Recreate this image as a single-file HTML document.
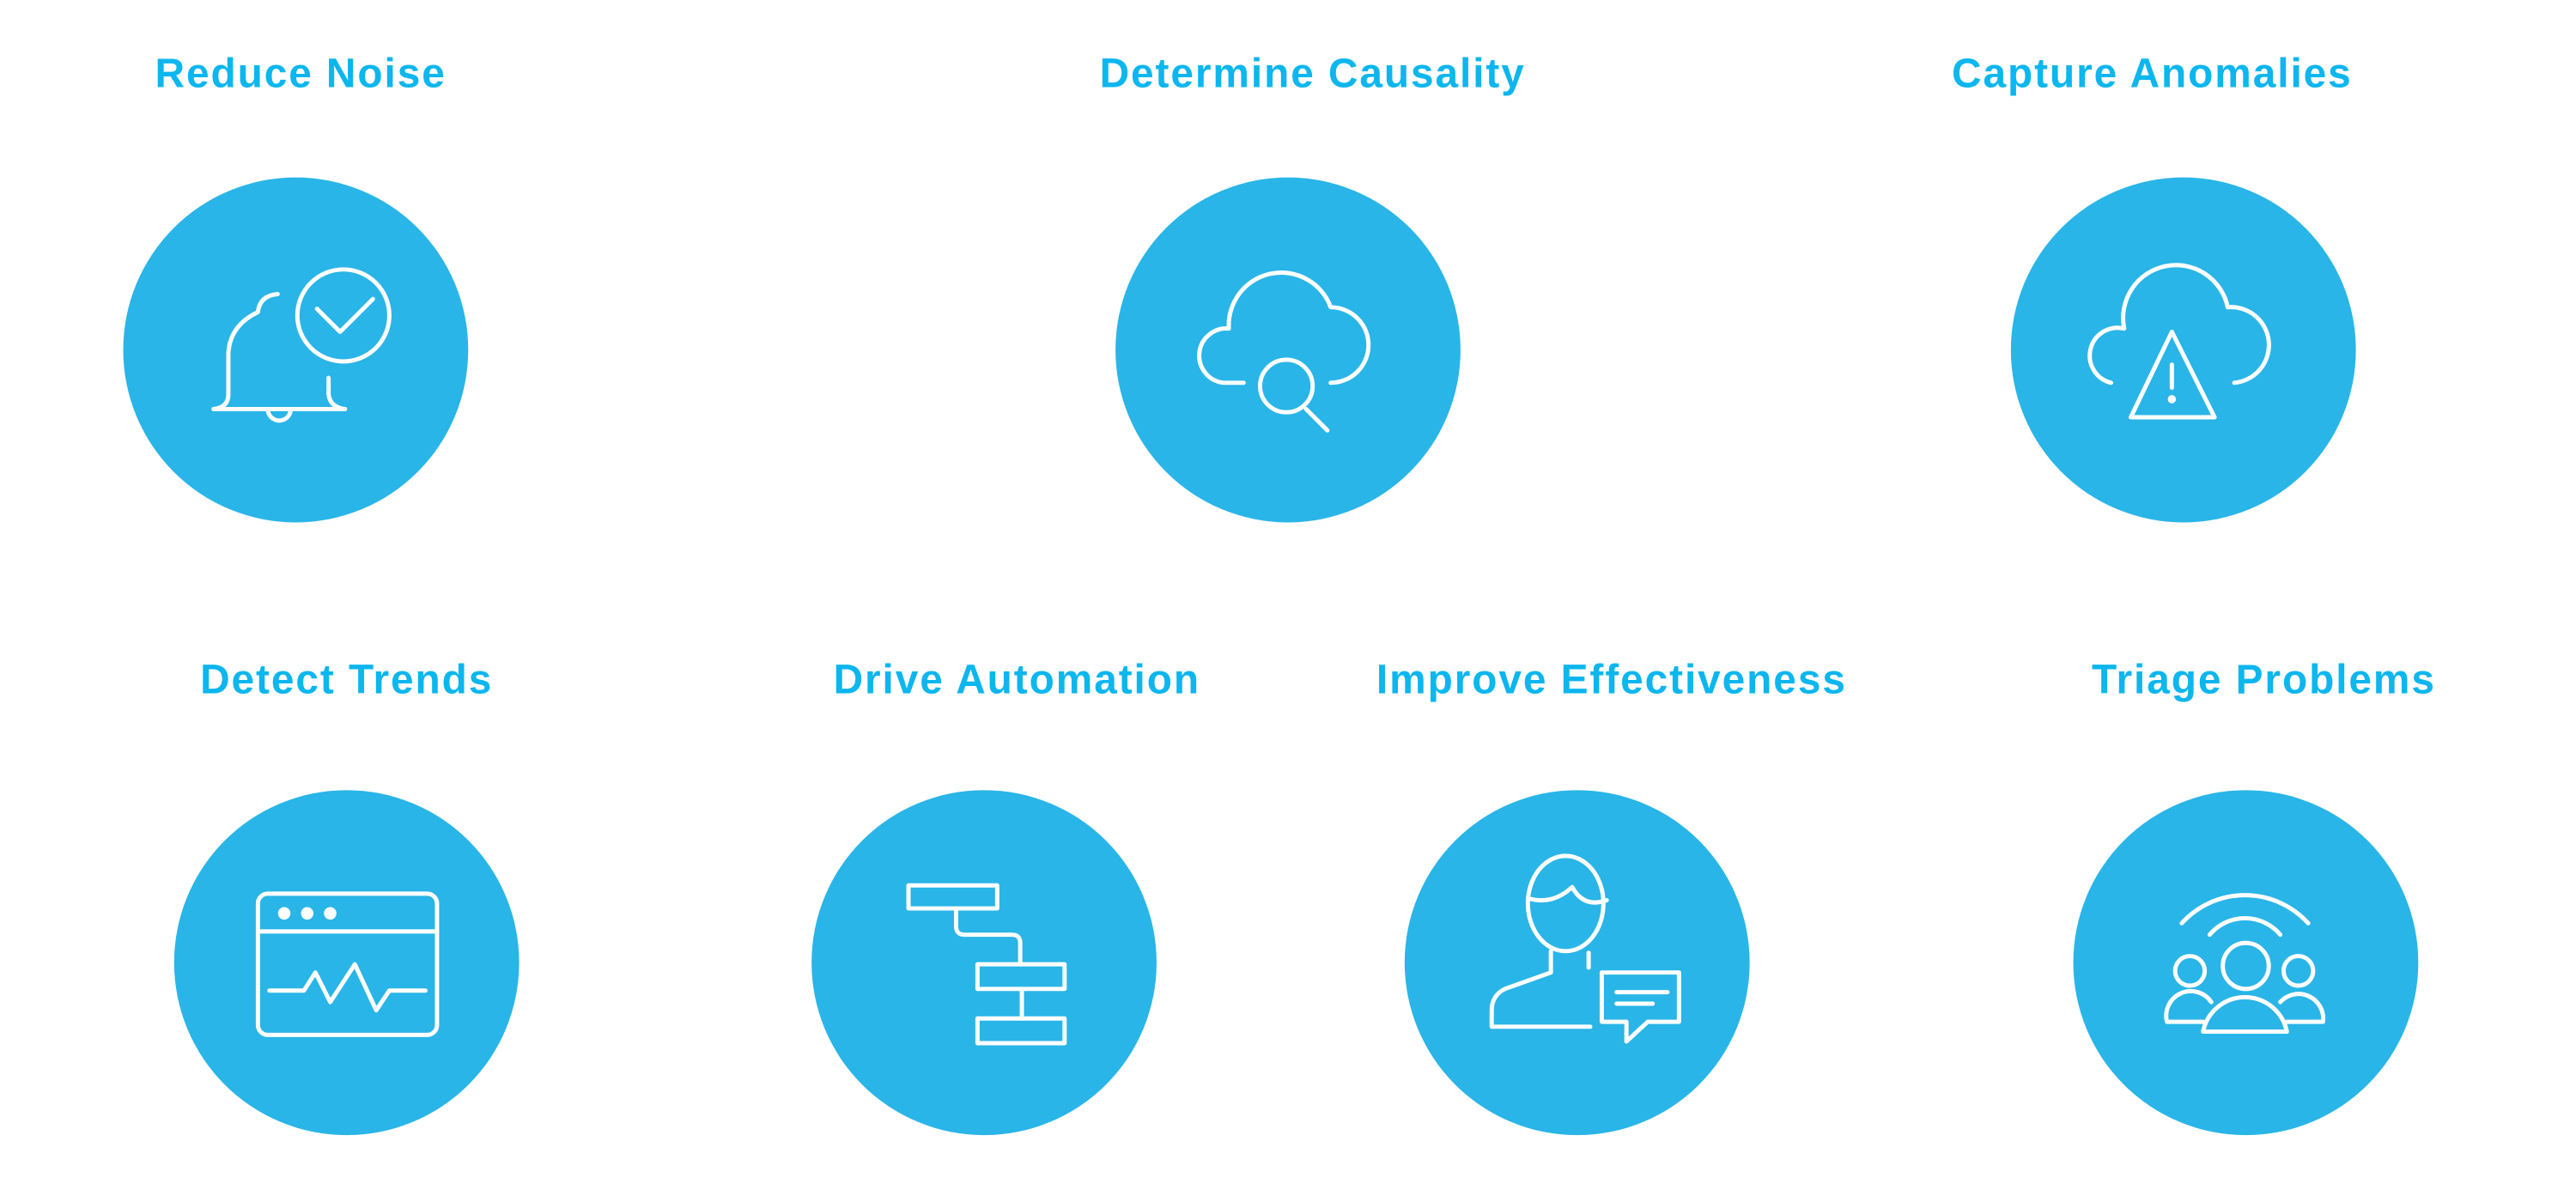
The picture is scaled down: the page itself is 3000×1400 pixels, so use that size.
<!DOCTYPE html>
<html><head><meta charset="utf-8"><style>
html,body{margin:0;padding:0;background:#fff;width:3000px;height:1400px;overflow:hidden}
svg{display:block}
text{font-family:"Liberation Sans",sans-serif;font-weight:bold;fill:#0cb6ee;font-size:25px;letter-spacing:1px;text-anchor:middle}
.i{fill:none;stroke:#fff;stroke-width:2.6;stroke-linecap:round;stroke-linejoin:round}
</style></head><body>
<svg width="3000" height="1400" viewBox="0 0 1568 731.7" xmlns="http://www.w3.org/2000/svg">
<g fill="#29b5e7">
<circle cx="180" cy="213" r="105"/>
<circle cx="784" cy="213" r="105"/>
<circle cx="1329" cy="213" r="105"/>
<circle cx="211" cy="586" r="105"/>
<circle cx="599" cy="586" r="105"/>
<circle cx="960" cy="586" r="105"/>
<circle cx="1367" cy="586" r="105"/>
</g>
<text x="183" y="53">Reduce Noise</text>
<text x="799" y="53">Determine Causality</text>
<text x="1310" y="53">Capture Anomalies</text>
<text x="211" y="422">Detect Trends</text>
<text x="619" y="422">Drive Automation</text>
<text x="981" y="422">Improve Effectiveness</text>
<text x="1378" y="422">Triage Problems</text>

<!-- bell -->
<g class="i">
<path d="M130,249 Q139,248 139,240 L139,215 Q140,198 157,190 Q158,180 169,179"/>
<path d="M200,230 L200,240 Q201,248 210,249"/>
<path d="M130,249 L210,249"/>
<path d="M163,249 A7,7 0 0 0 177,249"/>
<circle cx="209" cy="192" r="28"/>
<path d="M193,188 L207,202 L227,182"/>
</g>
<!-- cloud search -->
<g class="i">
<path d="M757,233 L745,233 A16,16 0 0 1 748,200 A32,32 0 0 1 810,187 A23,23 0 0 1 810,233"/>
<circle cx="783" cy="235" r="16"/>
<path d="M795,249 L808,262"/>
</g>
<!-- cloud warning -->
<g class="i">
<path d="M1285,233 A16,16 0 0 1 1293,200 A32,32 0 0 1 1356,187 A23,23 0 0 1 1360,233"/>
<path d="M1322,202 L1297,254 L1348,254 Z"/>
<path d="M1322,222 L1322,236"/>
<circle cx="1322" cy="243" r="1.2"/>
</g>
<!-- browser -->
<g class="i">
<rect x="157" y="544" width="109" height="86" rx="6"/>
<path d="M157,567 L266,567"/>
<circle cx="173" cy="556" r="2.5" fill="#fff"/>
<circle cx="187" cy="556" r="2.5" fill="#fff"/>
<circle cx="201" cy="556" r="2.5" fill="#fff"/>
<path d="M164,603 L185,603 L192,592 L201,610 L216,587 L229,615 L237,603 L259,603"/>
</g>
<!-- flowchart -->
<g class="i" stroke-linecap="butt">
<rect x="553" y="539" width="54" height="14"/>
<path d="M582,553 L582,564 Q582,569 587,569 L616,569 Q621,569 621,574 L621,587"/>
<rect x="595" y="587" width="53" height="15"/>
<path d="M622,602 L622,620"/>
<rect x="595" y="620" width="53" height="15"/>
</g>
<!-- person -->
<g class="i">
<ellipse cx="953" cy="550" rx="23" ry="29"/>
<path d="M931,547 Q945,551 957,540 Q964,553 978,548"/>
<path d="M944,579 L944,592 L916,602 Q908,606 908,615 L908,625 L968,625"/>
<path d="M967,580 L967,589"/>
<path d="M990,622 L975,622 L975,592 L1022,592 L1022,622 L1003,622 L990,634 Z"/>
<path d="M984,604 L1015,604 M984,611 L1006,611"/>
</g>
<!-- team -->
<g class="i">
<path d="M1328,562 A52,52 0 0 1 1405,562"/>
<path d="M1345,569 A28,28 0 0 1 1388,569"/>
<circle cx="1367" cy="588" r="14"/>
<path d="M1341,628 A26,26 0 0 1 1392,628 Z"/>
<circle cx="1333" cy="591" r="9"/>
<circle cx="1399" cy="591" r="9"/>
<path d="M1346,610 A15,15 0 0 0 1319,622 L1341,622"/>
<path d="M1388,610 A15,15 0 0 1 1414,622 L1392,622"/>
</g>
</svg>
</body></html>
